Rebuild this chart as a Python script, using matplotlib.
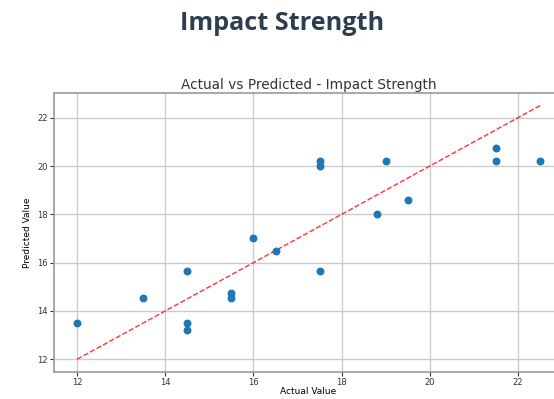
import matplotlib
matplotlib.use("Agg")
import matplotlib.pyplot as plt
import numpy as np

actual = [12, 13.5, 14.5, 14.5, 14.5, 15.5, 15.5, 16, 16.5, 17.5, 17.5, 17.5, 18.8, 19, 19.5, 21.5, 21.5, 22.5]
predicted = [13.5, 14.55, 15.65, 13.5, 13.2, 14.75, 14.55, 17.0, 16.5, 20.2, 20.0, 15.65, 18.0, 20.2, 18.6, 20.75, 20.2, 20.2]

fig = plt.figure(figsize=(5.54, 3.99), dpi=100)
fig.text(0.51, 0.94, "Impact Strength", ha="center", va="center",
         fontsize=18.2, fontweight="bold", color="#2c3e50", family="Open Sans")

ax = fig.add_axes([0.0975, 0.068, 0.919, 0.699])
ax.scatter(actual, predicted, s=22, color="#1f77b4", zorder=3)
lo, hi = min(actual), max(actual)
ax.plot([lo, hi], [lo, hi], "r--", lw=1, alpha=0.8, zorder=2)
ax.set_title("Actual vs Predicted - Impact Strength", fontsize=9.8, color="#333333", pad=3)
ax.set_xlabel("Actual Value", fontsize=6.5, labelpad=0)
ax.set_ylabel("Predicted Value", fontsize=6.5, labelpad=4)
ax.tick_params(labelsize=6, length=3, pad=1.5, colors="#333333")
ax.set_xticks([12, 14, 16, 18, 20, 22])
ax.set_yticks([12, 14, 16, 18, 20, 22])
ax.grid(True, color="#cccccc", linewidth=1)
ax.set_axisbelow(True)
for s in ax.spines.values():
    s.set_color("#999999")
    s.set_linewidth(1.2)

fig.savefig("out.png", dpi=100)
